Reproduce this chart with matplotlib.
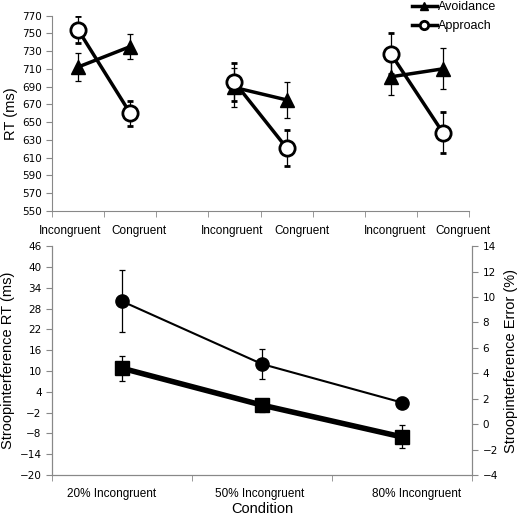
import matplotlib.pyplot as plt
import matplotlib.transforms as mtransforms
import numpy as np

plt.rcParams.update({'font.family': 'DejaVu Sans', 'font.size': 7,
                     'axes.edgecolor': '#888888', 'xtick.color': '#888888',
                     'ytick.color': '#888888', 'xtick.labelcolor': 'black',
                     'ytick.labelcolor': 'black'})

# top panel: three groups, Incongruent / Congruent
conds = ['Incongruent', 'Congruent']
avoid = [[712, 735], [689, 675], [701, 710]]
avoid_err = [[16, 14], [22, 20], [21, 23]]
approach = [[754, 660], [695, 621], [727, 638]]
approach_err = [[15, 14], [21, 20], [23, 23]]

# bottom panel
conditions = ['20% Incongruent', '50% Incongruent', '80% Incongruent']
rt_interf = [30.1, 12.0, 0.9]
rt_interf_err = [8.9, 4.4, 1.7]
err_interf = [4.4, 1.5, -1.0]
err_interf_err = [1.0, 0.5, 0.9]

fig = plt.figure(figsize=(5.2, 5.17), dpi=100)
ax1 = fig.add_axes([0.1, 0.592, 0.802, 0.378])
ax2 = fig.add_axes([0.1, 0.081, 0.808, 0.443])
ax3 = ax2.twinx()


def shift_labels(ax, shifts_px):
    # tick labels in the original sit a bit off their category centres
    for t, dx in zip(ax.get_xticklabels(), shifts_px):
        t.set_family('Liberation Sans')
        t.set_fontsize(8.5)
        t.set_transform(t.get_transform() +
                        mtransforms.ScaledTranslation(dx / 100, 0, fig.dpi_scale_trans))


# ---- top
xpos = []
for g in range(3):
    x = g * 3 + np.array([0.5, 1.5])
    xpos += list(x)
    ax1.errorbar(x, avoid[g], yerr=avoid_err[g], color='black', lw=2.5,
                 marker='^', ms=10, mfc='black', mec='black',
                 ecolor='black', elinewidth=0.9, capsize=2.5, capthick=0.9,
                 label='Avoidance' if g == 0 else None, zorder=3)
    ax1.errorbar(x, approach[g], yerr=approach_err[g], color='black', lw=2.5,
                 marker='o', ms=11, mfc='white', mec='black', mew=2,
                 ecolor='black', elinewidth=0.9, capsize=2.5, capthick=0.9,
                 label='Approach' if g == 0 else None, zorder=4)

ax1.set_xlim(0, 8)
ax1.set_ylim(550, 770)
ax1.set_yticks(np.arange(550, 771, 20))
ax1.set_xticks(xpos, conds * 3)
ax1.set_xticks(np.arange(0, 9), minor=True)
ax1.tick_params(axis='x', which='major', length=0, pad=10)
ax1.tick_params(axis='x', which='minor', length=4)
ax1.tick_params(axis='y', length=4, labelsize=7.5)
shift_labels(ax1, [-8, 9, -2, 15, 4, 20])
ax1.spines['top'].set_visible(False)
ax1.spines['right'].set_visible(False)
ax1.set_ylabel('RT (ms)', fontsize=10.5, family='Liberation Sans', labelpad=3)

h, l = ax1.get_legend_handles_labels()
leg = fig.legend([hh[0] for hh in h], l, loc='upper left',
                 bbox_to_anchor=(0.77, 1.02), frameon=False,
                 handlelength=2.0, handletextpad=0.1, labelspacing=0.6,
                 prop={'family': 'Liberation Sans', 'size': 9})
for hh in leg.legend_handles:
    hh.set_markersize(6)
    hh.set_linewidth(2.5)

# ---- bottom
xb = np.arange(len(conditions)) + 0.5
ax2.errorbar(xb, rt_interf, yerr=rt_interf_err, color='black', lw=1.5,
             marker='o', ms=9.5, ecolor='black', elinewidth=0.9,
             capsize=2.5, capthick=0.9, zorder=3)
ax3.errorbar(xb, err_interf, yerr=err_interf_err, color='black', lw=4,
             marker='s', ms=9.5, ecolor='black', elinewidth=0.9,
             capsize=2.5, capthick=0.9, zorder=3)

ax2.set_xlim(0, 3)
ax2.set_ylim(-20, 46)
ax2.set_yticks(np.arange(-20, 47, 6))
ax3.set_ylim(-4, 14)
ax3.set_yticks(np.arange(-4, 15, 2))
ax2.set_xticks(xb, conditions)
ax2.set_xticks(np.arange(0, 4), minor=True)
ax2.tick_params(axis='x', which='major', length=0, pad=9)
ax2.tick_params(axis='x', which='minor', length=4)
ax2.tick_params(axis='y', length=4, labelsize=7.5)
ax3.tick_params(axis='y', length=4, labelsize=7.5)
shift_labels(ax2, [-10, -2, 14])
for a in (ax2, ax3):
    a.spines['top'].set_visible(False)
ax2.set_ylabel('Stroopinterference RT (ms)', fontsize=10.5,
               family='Liberation Sans', labelpad=3)
ax3.set_ylabel('Stroopinterference Error (%)', fontsize=10.5,
               family='Liberation Sans', labelpad=4)
ax2.set_xlabel('Condition', fontsize=10.5, family='Liberation Sans', labelpad=2)

fig.savefig('out.png', dpi=100)
